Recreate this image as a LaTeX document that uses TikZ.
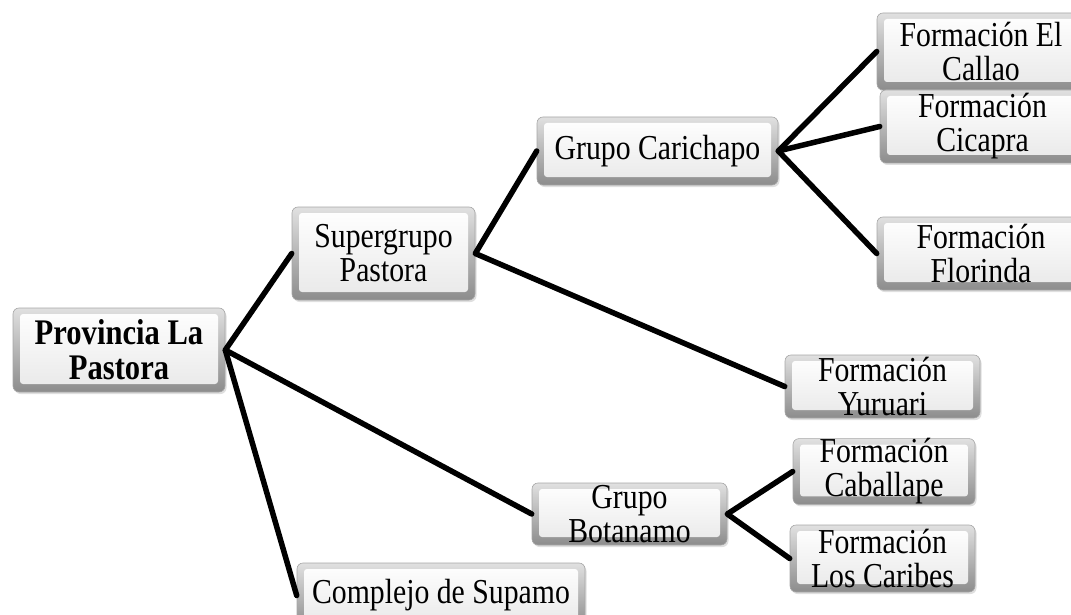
\documentclass[tikz,border=0pt]{standalone}
\usepackage{fontspec}
\setmainfont{Liberation Serif}[FakeStretch=0.85]
\usetikzlibrary{shadows}
\begin{document}
\begin{tikzpicture}[x=1pt,y=-1pt,
  box/.style={rounded corners=6pt, draw=black!35, line width=0.6pt,
    top color=black!12, bottom color=black!45,
    inner sep=0pt, align=center, text=black,
    font=\fontsize{35}{34}\selectfont,
    drop shadow={opacity=0.25, shadow xshift=1.5pt, shadow yshift=-2pt},
    path picture={
      \shade[top color=white, bottom color=black!9, rounded corners=3pt]
        ([shift={(7pt,-6pt)}]path picture bounding box.north west)
        rectangle ([shift={(-7pt,8pt)}]path picture bounding box.south east);
    }},
  link/.style={line width=5.5pt, line cap=round, line join=round}]
\useasboundingbox (0,0) rectangle (1071,615);
\clip (0,0) rectangle (1071,615);

% boxes of the hierarchy
\node[box, minimum width=212, minimum height=84, font=\fontsize{36}{35}\selectfont\bfseries]
  (prov) at (119,350) {Provincia La\\Pastora};
\node[box, minimum width=183, minimum height=93] (super) at (383.5,253.5) {Supergrupo\\Pastora};
\node[box, minimum width=241, minimum height=68] (cari) at (657.5,151) {Grupo Carichapo};
\node[box, minimum width=208, minimum height=77] (callao) at (981,51.5) {Formación El\\Callao};
\node[box, minimum width=205, minimum height=73] (cicapra) at (982.5,126.5) {Formación\\Cicapra};
\node[box, minimum width=208, minimum height=73] (flor) at (981,253.5) {Formación\\Florinda};
\node[box, minimum width=195, minimum height=63] (yuru) at (882.5,386.5) {Formación\\Yuruari};
\node[box, minimum width=195, minimum height=62] (bota) at (629.5,514) {Grupo\\Botanamo};
\node[box, minimum width=182, minimum height=63] (caba) at (884,471.5) {Formación\\Caballape};
\node[box, minimum width=185, minimum height=67] (cari2) at (882.5,558.5) {Formación\\Los Caribes};
\node[box, minimum width=288, minimum height=65] (supa) at (441,595.5) {Complejo de Supamo};

% connectors
\draw[link] (super.west) -- (prov.east) -- (bota.west);
\draw[link] (prov.east) -- (supa.west);
\draw[link] (cari.west) -- (super.east) -- (yuru.west);
\draw[link] (callao.west) -- (cari.east) -- (flor.west);
\draw[link] (cari.east) -- (cicapra.west);
\draw[link] (caba.west) -- (bota.east) -- (cari2.west);
\end{tikzpicture}
\end{document}
